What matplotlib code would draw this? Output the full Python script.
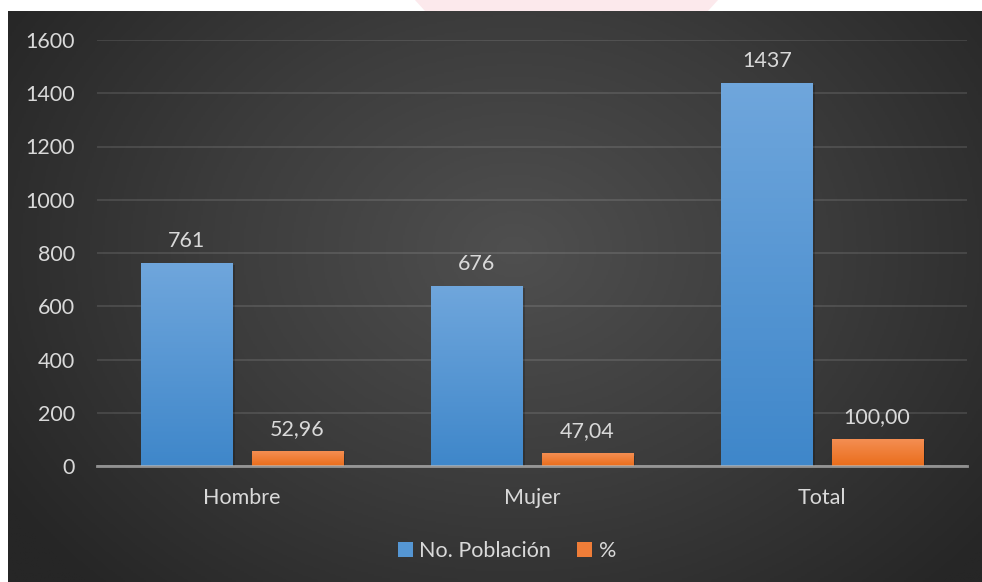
import matplotlib
matplotlib.use("Agg")
import matplotlib.pyplot as plt
import numpy as np
from matplotlib.patches import Polygon
import matplotlib.patheffects as pe
from matplotlib.colors import LinearSegmentedColormap

plt.rcParams['font.family'] = ['Lato', 'DejaVu Sans']

categories = ['Hombre', 'Mujer', 'Total']
poblacion = [761, 676, 1437]
porcentaje = [52.96, 47.04, 100.00]
pct_labels = ['52,96', '47,04', '100,00']
series_names = ['No. Población', '%']
yticks = [0, 200, 400, 600, 800, 1000, 1200, 1400, 1600]

txt = '#d9d9d9'
fs = 15.5
W, H = 982, 582
fig = plt.figure(figsize=(W / 100, H / 100), dpi=100)
fig.patch.set_facecolor('white')

# faint pink watermark in the white strip at the top
fig.patches.append(Polygon([(415 / W, 1), (718 / W, 1), (708 / W, 1 - 11 / H), (425 / W, 1 - 11 / H)],
                           closed=True, transform=fig.transFigure, facecolor='#fce9ec',
                           edgecolor='none', zorder=0))

# dark radial gradient panel
bg = fig.add_axes([8 / W, 0, (W - 8) / W, (H - 11) / H])
bg.set_axis_off()
yy, xx = np.mgrid[0:1:300j, 0:1:500j]
d = np.sqrt(((xx - 0.52) * 1.0) ** 2 + ((yy - 0.42) * 0.75) ** 2)
d = np.clip(d / 0.62, 0, 1)
bgcmap = LinearSegmentedColormap.from_list('bg', ['#4f4f4f', '#3c3c3c', '#262626'])
bg.imshow(d, cmap=bgcmap, aspect='auto', extent=[0, 1, 0, 1], origin='upper')
bg.set_xlim(0, 1)
bg.set_ylim(0, 1)

ax = fig.add_axes([97 / W, 116 / H, 870 / W, 426 / H])
ax.patch.set_alpha(0)
x = np.arange(len(categories))
w = 0.314
off = 0.19

blue_cmap = LinearSegmentedColormap.from_list('b', ['#3f87ca', '#6fa6dc'])
orange_cmap = LinearSegmentedColormap.from_list('o', ['#ea6d1b', '#f48e52'])

shadow = [pe.SimplePatchShadow(offset=(1.5, -1.5), shadow_rgbFace='black', alpha=0.2), pe.Normal()]
b1 = ax.bar(x - off, poblacion, w, color='#5596d3', zorder=3, path_effects=shadow)
b2 = ax.bar(x + off, porcentaje, w, color='#ef7d38', zorder=3, path_effects=shadow)

grad = np.linspace(0, 1, 100).reshape(-1, 1)
for bars, cm in ((b1, blue_cmap), (b2, orange_cmap)):
    for r in bars:
        x0, w0, h0 = r.get_x(), r.get_width(), r.get_height()
        ax.imshow(grad, cmap=cm, aspect='auto', origin='lower',
                  extent=[x0, x0 + w0, 0, h0], zorder=4)

for r, v in zip(b1, poblacion):
    ax.annotate(str(v), (r.get_x() + r.get_width() / 2, v), xytext=(0, 9),
                textcoords='offset points', ha='center', va='bottom', color=txt, fontsize=fs)
for r, v, s in zip(b2, porcentaje, pct_labels):
    ax.annotate(s, (r.get_x() + r.get_width() / 2, v), xytext=(0, 9),
                textcoords='offset points', ha='center', va='bottom', color=txt, fontsize=fs)

ax.set_xlim(-0.5, 2.5)
ax.set_ylim(0, 1600)
ax.set_yticks(yticks)
ax.set_xticks(x)
ax.set_xticklabels(categories)
ax.tick_params(axis='both', length=0, colors=txt, labelsize=fs)
ax.tick_params(axis='y', pad=16)
ax.tick_params(axis='x', pad=16)
ax.grid(axis='y', color='white', alpha=0.13, linewidth=1.2, zorder=1)
for s in ['top', 'right', 'left']:
    ax.spines[s].set_visible(False)
ax.spines['bottom'].set_color('#bcbcbc')
ax.spines['bottom'].set_alpha(0.7)
ax.spines['bottom'].set_linewidth(2)
ax.spines['bottom'].set_zorder(5)

leg = fig.legend([b1, b2], series_names, loc='center', bbox_to_anchor=(507 / W, 1 - 551 / H),
                 ncol=2, frameon=False, fontsize=fs, labelcolor=txt,
                 handlelength=0.7, handleheight=0.7, handletextpad=0.3, columnspacing=1.2)
for h, c in zip(leg.legend_handles, ['#5596d3', '#ef7d38']):
    h.set_path_effects([])
    h.set_facecolor(c)

fig.savefig('out.png', dpi=100, facecolor=fig.get_facecolor())
